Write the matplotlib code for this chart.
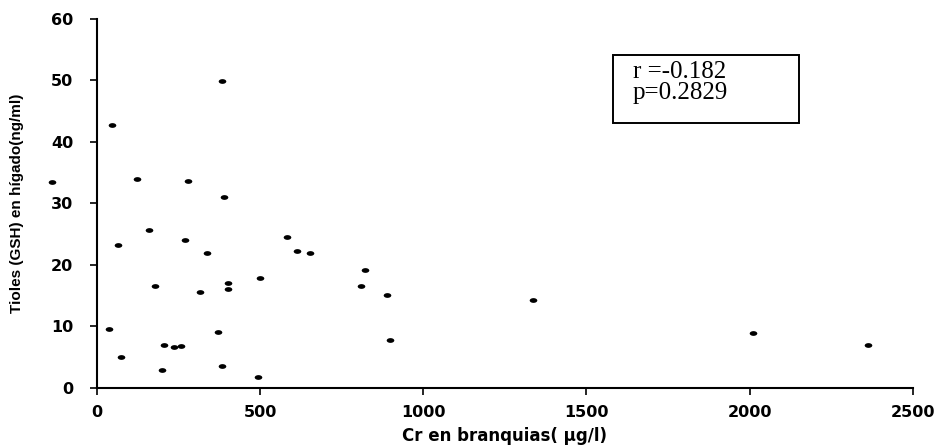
import matplotlib
matplotlib.use("Agg")
import matplotlib.pyplot as plt
from matplotlib.path import Path
from matplotlib.patches import Rectangle

# Cr in gills (ug/l) vs liver thiols (ng/ml)
cr_branquias = [-139, 45, 382, 121, 280, 388, 159, 63, 269, 338,
                583, 612, 654, 178, 317, 400, 400, 498, 37, 372,
                73, 204, 235, 258, 198, 382, 493, 808, 821, 890,
                897, 1335, 2009, 2364]
tioles = [33.4, 42.8, 49.9, 33.9, 33.7, 31.1, 25.6, 23.3, 24.0, 21.9,
          24.6, 22.2, 21.9, 16.5, 15.6, 17.1, 16.1, 17.9, 9.6, 9.05,
          5.0, 7.0, 6.7, 6.8, 2.9, 3.6, 1.8, 16.5, 19.2, 15.1,
          7.8, 14.3, 8.9, 7.0]
x_ticks = [0, 500, 1000, 1500, 2000, 2500]
y_ticks = [0, 10, 20, 30, 40, 50, 60]
stats_text = "r =-0.182\np=0.2829"

# flat ellipse marker like the scanned dots
circ = Path.unit_circle()
ellipse = Path(circ.vertices * [1.6, 1.0], circ.codes)

fig = plt.figure(figsize=(9.42, 4.48), dpi=100)
ax = fig.add_axes([0.103, 0.134, 0.866, 0.824])

ax.scatter(cr_branquias, tioles, marker=ellipse, s=30, color="black",
           linewidths=0, clip_on=False, zorder=3)

ax.set_xlim(0, 2500)
ax.set_ylim(0, 60)
ax.set_xticks(x_ticks)
ax.set_yticks(y_ticks)

for side in ["top", "right"]:
    ax.spines[side].set_visible(False)
for side in ["left", "bottom"]:
    ax.spines[side].set_linewidth(1.5)
    ax.spines[side].set_color("black")

ax.tick_params(axis="both", direction="out", length=5, width=1.2,
               colors="black", labelsize=11.5)
ax.tick_params(axis="x", pad=7)
ax.tick_params(axis="y", pad=12)
for lbl in ax.get_xticklabels() + ax.get_yticklabels():
    lbl.set_fontweight("bold")
    lbl.set_family(["DejaVu Sans"])

ax.set_xlabel("Cr en branquias( µg/l)", fontsize=12, fontweight="bold",
              family=["DejaVu Sans"], labelpad=5)
ax.set_ylabel("Tioles (GSH) en hígado(ng/ml)", fontsize=11, fontweight="bold",
              family=["Liberation Sans Narrow", "Liberation Sans", "DejaVu Sans"])
ax.yaxis.set_label_coords(-0.089, 0.5)

# stats box
ax.add_patch(Rectangle((0.632, 0.718), 0.229, 0.184, transform=ax.transAxes,
                       facecolor="white", edgecolor="black", linewidth=1.4,
                       clip_on=False, zorder=4))
ax.text(0.657, 0.827, stats_text, transform=ax.transAxes, fontsize=18,
        family=["Liberation Serif", "DejaVu Serif"], va="center", ha="left",
        linespacing=0.95, zorder=5)

fig.savefig("out.png", dpi=100)
